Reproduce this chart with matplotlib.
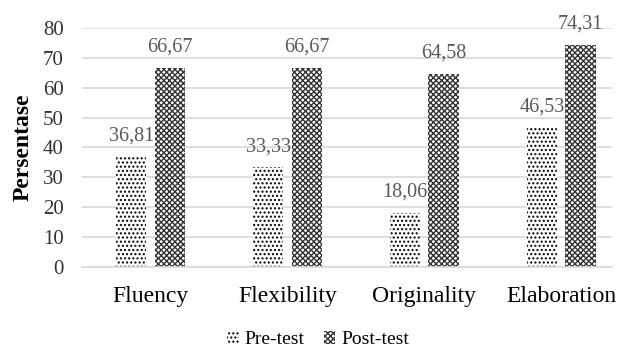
import numpy as np
import matplotlib.pyplot as plt

plt.rcParams['font.family'] = ['Liberation Serif', 'DejaVu Serif']
plt.rcParams['hatch.linewidth'] = 1.0

categories = ['Fluency', 'Flexibility', 'Originality', 'Elaboration']
pre = [36.81, 33.33, 18.06, 46.53]
post = [66.67, 66.67, 64.58, 74.31]

fig = plt.figure(figsize=(6.19, 3.52), dpi=100)
ax = fig.add_axes([82/619, 0.2415, 530/619, 0.679])

x = np.arange(len(categories))
w = 0.22
off = 0.14
b1 = ax.bar(x - off, pre, w, color='white', edgecolor='black', linewidth=0, hatch='....', label='Pre-test')
b2 = ax.bar(x + off, post, w, color='white', edgecolor='#333333', linewidth=0, hatch='xxxxxx', label='Post-test')

def fmt(v):
    return f"{v:.2f}".replace('.', ',')

for xs, vals in [(x - off, pre), (x + off, post)]:
    for xi, v in zip(xs, vals):
        ax.annotate(fmt(v), (xi, v), xytext=(0, 8), textcoords='offset points',
                    ha='center', va='bottom', fontsize=14.5, color='#595959')

ax.set_xlim(-0.5, 3.37)
ax.set_ylim(0, 80)
ax.set_yticks(range(0, 81, 10))
ax.set_xticks(x)
ax.set_xticklabels(categories, fontsize=17)
ax.tick_params(axis='y', labelsize=15, length=0, pad=13, labelcolor='#333333')
ax.tick_params(axis='x', length=0, pad=14)
ax.grid(axis='y', color='#d9d9d9', linewidth=1.2)
ax.set_axisbelow(True)
for s in ['top', 'right', 'left']:
    ax.spines[s].set_visible(False)
ax.spines['bottom'].set_color('#d9d9d9')
ax.spines['bottom'].set_linewidth(1.2)
ax.set_ylabel('Persentase', fontsize=17, fontweight='bold', labelpad=7)

fig.legend(handles=[b1, b2], loc='center', bbox_to_anchor=(318/619, 0.035), ncol=2, frameon=False,
           fontsize=14, handlelength=0.6, handleheight=0.6, columnspacing=1.0, handletextpad=0.3,
           borderpad=0.1)

fig.savefig('out.png', dpi=100)
